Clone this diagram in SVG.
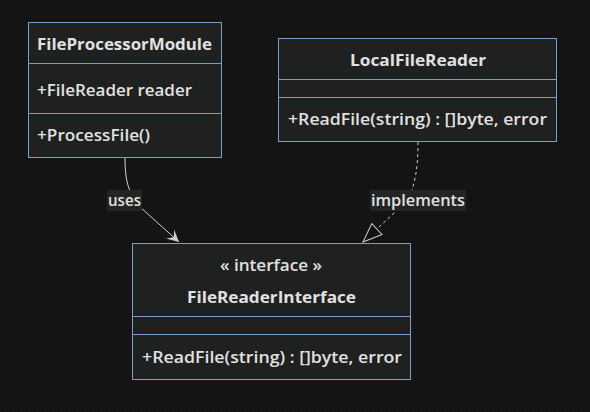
<svg xmlns="http://www.w3.org/2000/svg" width="590" height="412" viewBox="0 0 590 412">
  <style>
    .box { fill: #1f2020; stroke: #7b9ec4; stroke-width: 1; }
    .div { stroke: #7b9ec4; stroke-width: 1; }
    text { font-family: "Open Sans", "DejaVu Sans", sans-serif; font-size: 16px; font-weight: 600; fill: #e2e0e0; }
    .title { font-weight: bold; }
    .mid { text-anchor: middle; }
    .edge { fill: none; stroke: #d0d0d0; stroke-width: 1; }
    .dash { stroke-dasharray: 3 3; }
    .lblbg { fill: #232525; }
  </style>
  <defs>
    <pattern id="grid" width="4" height="4" patternUnits="userSpaceOnUse">
      <rect width="4" height="4" fill="#131313"/>
      <path d="M4,0 L0,0 L0,4" fill="none" stroke="#171717" stroke-width="1"/>
    </pattern>
    <marker id="dep" viewBox="0 0 12 12" refX="12" refY="6" markerWidth="12" markerHeight="12" markerUnits="userSpaceOnUse" orient="auto">
      <path d="M0,0 L12,6 L0,12 L5,6 Z" fill="#d0d0d0"/>
    </marker>
    <marker id="ext" viewBox="0 0 21 17" refX="20" refY="8.5" markerWidth="21" markerHeight="17" markerUnits="userSpaceOnUse" orient="auto">
      <path d="M1,1 L20,8.5 L1,16 Z" fill="#131313" stroke="#d0d0d0" stroke-width="1"/>
    </marker>
  </defs>
  <rect width="590" height="412" fill="url(#grid)"/>

  <g id="connectors">
    <path class="edge" d="M125,158 C125,180 128,193 140,207 L179,242" marker-end="url(#dep)"/>
    <path class="edge dash" d="M418,142 C418,165 416,182 408,200 L363,242" marker-end="url(#ext)"/>
    <g id="label-uses">
      <rect class="lblbg" x="107" y="190" width="35" height="21"/>
      <text x="108" y="206" textLength="33" lengthAdjust="spacingAndGlyphs">uses</text>
    </g>
    <g id="label-implements">
      <rect class="lblbg" x="370" y="190" width="96" height="21"/>
      <text x="371" y="206" textLength="94" lengthAdjust="spacingAndGlyphs">implements</text>
    </g>
  </g>

  <g id="FileProcessorModule">
    <rect class="box" x="28.5" y="22.5" width="193" height="135"/>
    <line class="div" x1="28.5" y1="63.5" x2="221.5" y2="63.5"/>
    <line class="div" x1="28.5" y1="113.5" x2="221.5" y2="113.5"/>
    <text class="title" x="37" y="50" textLength="175" lengthAdjust="spacingAndGlyphs">FileProcessorModule</text>
    <text x="37" y="96" textLength="155" lengthAdjust="spacingAndGlyphs">+FileReader reader</text>
    <text x="37" y="141" textLength="113" lengthAdjust="spacingAndGlyphs">+ProcessFile()</text>
  </g>

  <g id="LocalFileReader">
    <rect class="box" x="278.5" y="38.5" width="278" height="103"/>
    <line class="div" x1="278.5" y1="79.5" x2="556.5" y2="79.5"/>
    <line class="div" x1="278.5" y1="97.5" x2="556.5" y2="97.5"/>
    <text class="title" x="350" y="66" textLength="136" lengthAdjust="spacingAndGlyphs">LocalFileReader</text>
    <text x="288" y="125" textLength="259" lengthAdjust="spacingAndGlyphs">+ReadFile(string) : []byte, error</text>
  </g>

  <g id="FileReaderInterface">
    <rect class="box" x="132.5" y="243.5" width="278" height="136"/>
    <line class="div" x1="132.5" y1="316.5" x2="410.5" y2="316.5"/>
    <line class="div" x1="132.5" y1="334.5" x2="410.5" y2="334.5"/>
    <text x="220" y="271" textLength="102" lengthAdjust="spacingAndGlyphs">« interface »</text>
    <text class="title" x="187" y="303" textLength="169" lengthAdjust="spacingAndGlyphs">FileReaderInterface</text>
    <text x="142" y="363" textLength="260" lengthAdjust="spacingAndGlyphs">+ReadFile(string) : []byte, error</text>
  </g>
</svg>
